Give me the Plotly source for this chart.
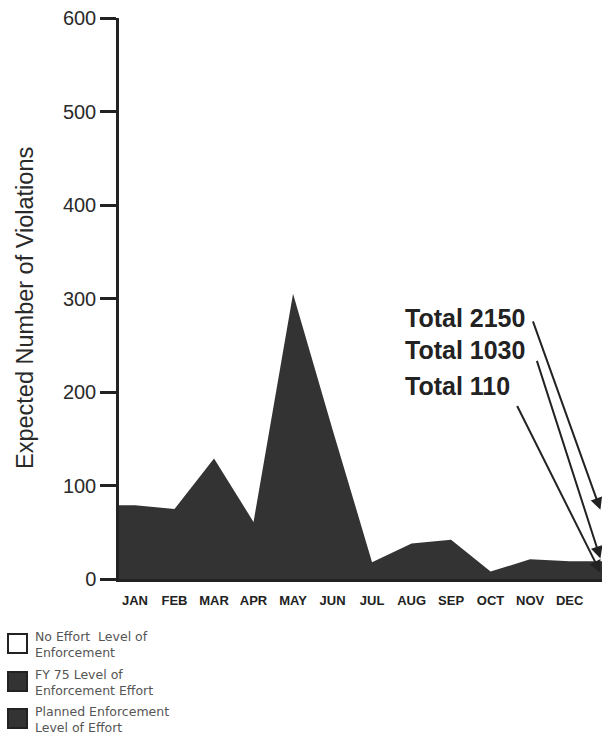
import plotly.graph_objects as go

# ---------------- data ----------------
months = ["JAN", "FEB", "MAR", "APR", "MAY", "JUN",
          "JUL", "AUG", "SEP", "OCT", "NOV", "DEC"]
fy75_violations = [79, 75, 129, 61, 305, 160, 18, 38, 42, 8, 21, 19]

total_labels = ["Total 2150", "Total 1030", "Total 110"]
arrow_target_values = [74, 22, 7]

y_ticks = [0, 100, 200, 300, 400, 500, 600]

legend_labels = ["No Effort  Level of<br>Enforcement",
                 "FY 75 Level of<br>Enforcement Effort",
                 "Planned Enforcement<br>Level of Effort"]
legend_fills = ["white", "#333333", "#333333"]

# ---------------- layout geometry ----------------
W, H = 602, 735
L, R, T, B = 119, 0, 18, 156
PW, PH = W - L - R, H - T - B

x_lo, x_hi = -0.405, 11.82
y_lo, y_hi = 0, 600


def px_x(px):
    return (px - L) / PW


def px_y(py):
    return (H - B - py) / PH


dark = "#333333"
ink = "#222222"
font_main = "Liberation Sans, Arial, Helvetica, sans-serif"

xs = list(range(len(months)))
fill_x = [x_lo] + xs + [x_hi]
fill_y = [fy75_violations[0]] + fy75_violations + [fy75_violations[-1]]

fig = go.Figure()
fig.add_trace(go.Scatter(
    x=fill_x, y=fill_y, mode="lines", fill="tozeroy",
    line=dict(width=0, color=dark), fillcolor=dark,
    name="FY 75 Level of Enforcement Effort", showlegend=False,
    hoverinfo="skip",
))

annotations = []

# total labels
text_py = [318, 350, 386]
for lab, py in zip(total_labels, text_py):
    annotations.append(dict(
        text=lab, xref="paper", yref="paper",
        x=px_x(403), y=px_y(py), xanchor="left", yanchor="middle",
        showarrow=False,
        font=dict(family=font_main, size=25, color=ink, weight="bold"),
    ))

# arrows
tails = [(-68, -190), (-64, -199), (-84, -168)]
tip_x = x_hi - 0.04
for val, (ax, ay) in zip(arrow_target_values, tails):
    annotations.append(dict(
        text="", x=tip_x, y=val, xref="x", yref="y",
        ax=ax, ay=ay, showarrow=True, arrowhead=2, arrowsize=1.2,
        arrowwidth=2, arrowcolor=ink, standoff=0,
    ))

# y-axis title
annotations.append(dict(
    text="Expected Number of Violations", xref="paper", yref="paper",
    x=px_x(25), y=px_y(308), textangle=-90, showarrow=False,
    xanchor="center", yanchor="middle",
    font=dict(family=font_main, size=23.5, color="#2a2a2a"),
))

# legend
shapes = []
legend_box_py = [634, 672, 709]
for lab, fc, py in zip(legend_labels, legend_fills, legend_box_py):
    shapes.append(dict(
        type="rect", xref="paper", yref="paper",
        x0=px_x(8), x1=px_x(27), y0=px_y(py + 19), y1=px_y(py),
        fillcolor=fc, line=dict(color=ink, width=2),
    ))
    annotations.append(dict(
        text=lab, xref="paper", yref="paper",
        x=px_x(33), y=px_y(py + 10), xanchor="left", yanchor="middle",
        align="left", showarrow=False,
        font=dict(family="DejaVu Sans, sans-serif", size=12.5, color="#555555"),
    ))

fig.update_layout(
    width=W, height=H,
    margin=dict(l=L, r=R, t=T, b=B, pad=0),
    paper_bgcolor="white", plot_bgcolor="white",
    showlegend=False,
    annotations=annotations,
    shapes=shapes,
    xaxis=dict(
        range=[x_lo, x_hi], tickmode="array", tickvals=xs, ticktext=months,
        showline=True, linewidth=2.5, linecolor=ink, ticks="",
        ticklabelstandoff=8,
        tickfont=dict(family=font_main, size=13, color=ink, weight="bold"),
        showgrid=False, zeroline=False, fixedrange=True,
    ),
    yaxis=dict(
        range=[y_lo, y_hi], tickmode="array", tickvals=y_ticks,
        showline=True, linewidth=2.5, linecolor=ink,
        ticks="outside", ticklen=16, tickwidth=2.5, tickcolor=ink,
        tickfont=dict(family=font_main, size=20, color="#2a2a2a"),
        showgrid=False, zeroline=False, fixedrange=True,
    ),
)

fig.write_html(
    "out.html",
    config={"displayModeBar": False},
    post_script="document.body.style.margin='0';document.body.style.overflow='hidden';",
)
